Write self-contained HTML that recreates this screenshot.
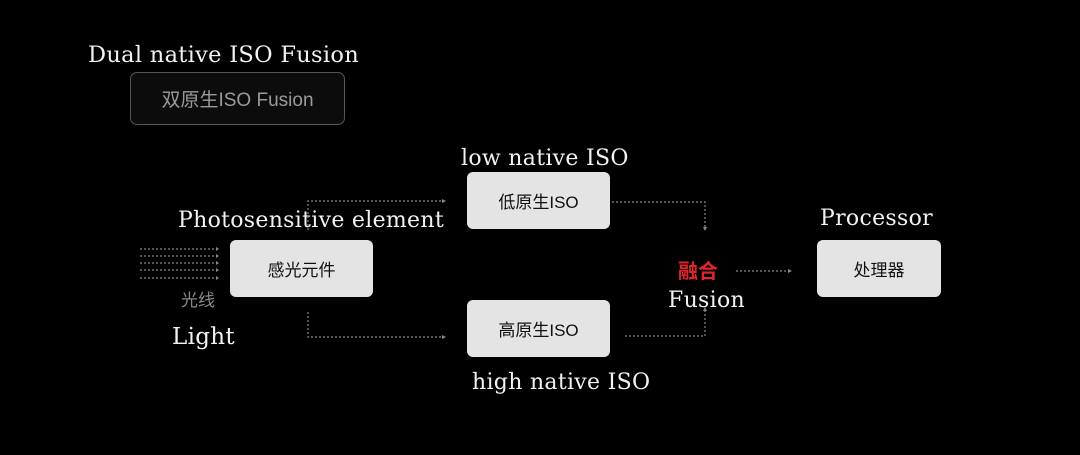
<!DOCTYPE html>
<html><head><style>
body{margin:0;width:1080px;height:455px;background:#000;position:relative;overflow:hidden;font-family:"Liberation Serif",serif;}
.t{position:absolute;color:#f2f2f2;font-family:"DejaVu Serif","Liberation Serif",serif;font-size:22px;letter-spacing:0.3px;white-space:nowrap;line-height:1;}
.b{position:absolute;background:#e4e4e4;border-radius:6px;color:#111;font-family:"Liberation Sans","Noto Sans CJK SC",sans-serif;font-size:17px;display:flex;align-items:center;justify-content:center;}
</style></head><body>
<div class="t" style="left:88px;top:44px;font-size:22.5px">Dual native ISO Fusion</div>
<div style="position:absolute;left:130px;top:72px;width:213px;height:51px;border:1px solid #555;border-radius:7px;background:#0c0c0c;color:#9a9a9a;font-family:'Liberation Sans','Noto Sans CJK SC',sans-serif;font-size:19px;display:flex;align-items:center;justify-content:center">双原生ISO Fusion</div>
<div class="t" style="left:461px;top:148px">low native ISO</div>
<div class="t" style="left:178px;top:210px">Photosensitive element</div>
<div class="t" style="left:820px;top:208px">Processor</div>
<div class="t" style="left:668px;top:290px">Fusion</div>
<div class="t" style="left:472px;top:372px">high native ISO</div>
<div class="t" style="left:172px;top:326px;font-size:23px">Light</div>
<div style="position:absolute;left:678px;top:260px;color:#e0262a;font-weight:bold;font-size:20px;font-family:'Noto Sans CJK SC',sans-serif;line-height:1">融合</div>
<div style="position:absolute;left:181px;top:290px;color:#8a8a8a;font-size:17px;font-family:'Noto Sans CJK SC',sans-serif;line-height:1">光线</div>
<div class="b" style="left:230px;top:240px;width:143px;height:57px">感光元件</div>
<div class="b" style="left:467px;top:172px;width:143px;height:57px">低原生ISO</div>
<div class="b" style="left:467px;top:300px;width:143px;height:57px">高原生ISO</div>
<div class="b" style="left:817px;top:240px;width:124px;height:57px">处理器</div>
<svg width="1080" height="455" style="position:absolute;left:0;top:0" fill="none" stroke="#888" stroke-width="1.2" stroke-dasharray="2 2">
<path d="M308 230V201H444M308 312V337H444M612 202H705V228M625 336H705V310M736 271H790"/>
<path d="M140 249H217M140 256H217M140 263H217M140 270H217M140 278H217"/>
<g fill="#888" stroke="none">
<path d="M446 201l-4-2v4zM446 337l-4-2v4zM705 231l-2-4h4zM705 307l-2 4h4zM792 271l-4-2v4z"/>
<path d="M219 249l-3-2v4zM219 256l-3-2v4zM219 263l-3-2v4zM219 270l-3-2v4zM219 278l-3-2v4z"/>
</g></svg>
</body></html>
